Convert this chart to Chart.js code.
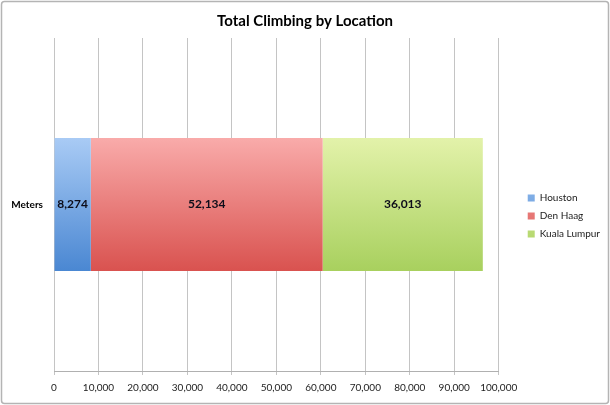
<!DOCTYPE html>
<html lang="en">
<head>
  <meta charset="UTF-8">
  <title>Total Climbing by Location</title>
  <style>
    body {
      margin: 0;
      padding: 0;
      background: white;
    }
    .chart-container {
      position: relative;
      width: 610px;
      height: 405px;
    }
  </style>
  <script src="https://cdn.jsdelivr.net/npm/chart.js"></script>
</head>
<body>
  <div class="chart-container">
    <canvas id="climbChart"></canvas>
  </div>

  <script>
    const categories = ['Meters'];
    const locations = ['Houston', 'Den Haag', 'Kuala Lumpur'];
    const houston = [8274];
    const denHaag = [52134];
    const kualaLumpur = [36013];
    const xTicks = [0, 10000, 20000, 30000, 40000, 50000, 60000, 70000, 80000, 90000, 100000];

    // top / bottom colours of each bar gradient
    const gradients = [
      ['#a9cbf5', '#4a87d2'],
      ['#f9abaa', '#d9524f'],
      ['#e3f2aa', '#a8d05e']
    ];

    const FONT = 'Lato, "Liberation Sans", sans-serif';

    function barFill(i) {
      return (ctx) => {
        const chart = ctx.chart;
        const area = chart.chartArea;
        if (!area) return gradients[i][1];
        const mid = (area.top + area.bottom) / 2;
        const half = (area.bottom - area.top) * 0.2;
        const g = chart.ctx.createLinearGradient(0, mid - half, 0, mid + half);
        g.addColorStop(0, gradients[i][0]);
        g.addColorStop(1, gradients[i][1]);
        return g;
      };
    }

    // outer frame like the spreadsheet chart box
    const framePlugin = {
      id: 'frame',
      beforeDraw(chart) {
        const c = chart.ctx;
        c.save();
        c.strokeStyle = '#b4b4b4';
        c.lineWidth = 1.5;
        c.beginPath();
        c.roundRect(1.5, 1.5, chart.width - 3, chart.height - 3, 3);
        c.stroke();
        c.restore();
      }
    };

    // value labels in the middle of each segment
    const valueLabels = {
      id: 'valueLabels',
      afterDatasetsDraw(chart) {
        const c = chart.ctx;
        c.save();
        c.font = 'bold 12px ' + FONT;
        c.fillStyle = '#0d0d1a';
        c.textAlign = 'center';
        c.textBaseline = 'middle';
        chart.data.datasets.forEach((ds, i) => {
          chart.getDatasetMeta(i).data.forEach((bar, j) => {
            const x = (bar.x + bar.base) / 2;
            c.fillText(ds.data[j].toLocaleString('en-US'), x, bar.y);
          });
        });
        c.restore();
      }
    };

    const seriesData = [houston, denHaag, kualaLumpur];

    const chart = new Chart(document.getElementById('climbChart'), {
      type: 'bar',
      data: {
        labels: categories,
        datasets: locations.map((name, i) => ({
          label: name,
          data: seriesData[i],
          backgroundColor: barFill(i),
          borderWidth: 0,
          barPercentage: 0.4,
          categoryPercentage: 1
        }))
      },
      options: {
        indexAxis: 'y',
        responsive: true,
        maintainAspectRatio: false,
        animation: false,
        layout: {
          padding: { top: 12, right: 0, bottom: 0, left: 0 }
        },
        scales: {
          x: {
            stacked: true,
            min: 0,
            max: 100000,
            afterBuildTicks: (scale) => {
              scale.ticks = xTicks.map(v => ({ value: v }));
            },
            afterFit: (scale) => { scale.height = 34; },
            grid: {
              color: '#c4c4c4',
              lineWidth: 1,
              tickLength: 4
            },
            border: { display: true, color: '#b0b0b0' },
            ticks: {
              padding: 7,
              color: '#222',
              font: { family: FONT, size: 10 },
              callback: (v) => Number(v).toLocaleString('en-US')
            }
          },
          y: {
            stacked: true,
            afterFit: (scale) => { scale.width = 54; },
            grid: { display: false, tickLength: 0 },
            border: { display: false },
            ticks: {
              padding: 11,
              color: '#000',
              font: { family: FONT, size: 10, weight: 'bold' }
            }
          },
          // empty spacer between the plot and the legend
          gap: {
            axis: 'y',
            position: 'right',
            afterFit: (scale) => { scale.width = 21; },
            grid: { display: false, tickLength: 0 },
            border: { display: false },
            ticks: { display: false }
          }
        },
        plugins: {
          title: {
            display: true,
            text: 'Total Climbing by Location',
            color: '#000',
            font: { family: FONT, size: 15, weight: 'bold' },
            padding: { top: 0, bottom: 8 }
          },
          legend: {
            position: 'right',
            title: {
              display: true,
              text: '',
              padding: { top: 1.5, bottom: 1.5 },
              font: { size: 10 }
            },
            labels: {
              boxWidth: 7,
              boxHeight: 7,
              padding: 8,
              color: '#222',
              font: { family: FONT, size: 10 }
            }
          },
          tooltip: { enabled: false }
        }
      },
      plugins: [framePlugin, valueLabels]
    });
  </script>
</body>
</html>
